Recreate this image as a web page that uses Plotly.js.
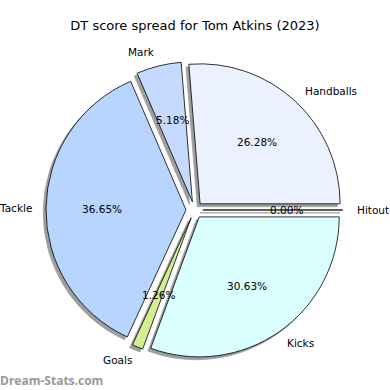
<!DOCTYPE html>
<html><head><meta charset="utf-8">
<script src="https://cdn.plot.ly/plotly-3.0.1.min.js"></script>
<style>html,body{margin:0;padding:0;background:#fff}#chart{width:390px;height:390px}</style>
</head><body><div id="chart"></div>
<script>
const categories = ['Handballs', 'Mark', 'Tackle', 'Goals', 'Kicks', 'Hitout'];
const values = [26.28, 5.18, 36.65, 1.26, 30.63, 0.00];
const colors = ['#EBF1FF', '#C6D9FF', '#B7D5FF', '#D3EE90', '#DAFFFF', '#FFFFFF'];
const titleText = 'DT score spread for Tom Atkins (2023)';
const watermark = 'Dream-Stats.com';

const W = 390, H = 390, CX = 194.4, CY = 210, R = 140, PULL = 0.06, SH = 2.8;
const FONT = 'DejaVu Sans, sans-serif';

const total = values.reduce((a, b) => a + b, 0);
const pcts = values.map(v => (v / total * 100).toFixed(2) + '%');
let acc = 0;
const mids = values.map(v => { const m = (acc + v / 2) / total * 2 * Math.PI; acc += v; return m; });
const box = R * (1 + PULL);
// Plotly's counterclockwise pies place the END of the first slice at `rotation`,
// so shift by the first slice's angle to start it at 3 o'clock like matplotlib.
const rot = 90 - values[0] / total * 360;
function dom(cx, cy, half) {
  return {x: [(cx - half) / W, (cx + half) / W], y: [(H - cy - half) / H, (H - cy + half) / H]};
}

const pieBase = {
  type: 'pie', labels: categories, values: values, sort: false,
  direction: 'counterclockwise', rotation: rot, pull: PULL,
  textinfo: 'none', hoverinfo: 'skip', showlegend: false
};
const shadow = Object.assign({}, pieBase, {
  domain: dom(CX - SH, CY + SH, box),
  marker: {colors: categories.map(() => 'rgb(158,158,158)'), line: {color: 'rgb(158,158,158)', width: 0.8}}
});
const main = Object.assign({}, pieBase, {
  domain: dom(CX, CY, box),
  marker: {colors: colors, line: {color: '#000000', width: 0.8}}
});
const dummy = {type: 'scatter', x: [], y: [], mode: 'lines', showlegend: false, hoverinfo: 'skip'};

const ann = [];
mids.forEach((m, i) => {
  const c = Math.cos(m), s = Math.sin(m);
  const lr = 1.1 + PULL, pr = 0.6 + PULL;
  ann.push({xref: 'x', yref: 'y', x: lr * c, y: lr * s, text: categories[i], showarrow: false,
    borderpad: 0, borderwidth: 0,
    xanchor: c >= 0 ? 'left' : 'right', yanchor: 'middle', font: {family: FONT, size: 10.5, color: '#000'}});
  ann.push({xref: 'x', yref: 'y', x: pr * c, y: pr * s, text: pcts[i], showarrow: false,
    borderpad: 0, borderwidth: 0,
    xanchor: 'center', yanchor: 'middle', font: {family: FONT, size: 10.5, color: '#000'}});
});
ann.push({xref: 'paper', yref: 'paper', x: 0, y: 10 / H, text: '<b>' + watermark + '</b>', showarrow: false,
  borderpad: 0, borderwidth: 0,
  xanchor: 'left', yanchor: 'middle', font: {family: 'Open Sans, sans-serif', size: 12, color: '#999999'}});

const layout = {
  width: W, height: H, margin: {l: 0, r: 0, t: 0, b: 0},
  paper_bgcolor: '#ffffff', plot_bgcolor: 'rgba(0,0,0,0)',
  title: {text: titleText, x: 0.5, xanchor: 'center', y: 1 - 25 / H, yanchor: 'middle',
    font: {family: FONT, size: 13, color: '#000'}},
  xaxis: {range: [-CX / R, (W - CX) / R], visible: false, fixedrange: true},
  yaxis: {range: [-(H - CY) / R, CY / R], visible: false, fixedrange: true},
  annotations: ann,
  font: {family: FONT}
};
Plotly.newPlot('chart', [dummy, shadow, main], layout, {staticPlot: true});
</script></body></html>
